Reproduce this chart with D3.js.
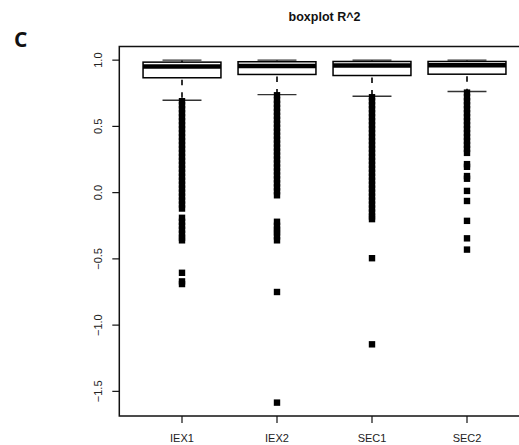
<!DOCTYPE html>
<meta charset="utf-8">
<style>
body { margin: 0; background: #fff; }
svg text { font-family: "Liberation Sans", Arial, sans-serif; fill: #222; }
</style>
<body>
<svg width="519" height="445"></svg>
<script src="https://cdn.jsdelivr.net/npm/d3@7"></script>
<script>

var groups = ["IEX1", "IEX2", "SEC1", "SEC2"];
var q1 = [0.867, 0.892, 0.884, 0.894];
var medians = [0.952, 0.955, 0.960, 0.962];
var q3 = [0.985, 0.988, 0.990, 0.990];
var upperWhisker = [1.0, 1.0, 1.0, 1.0];
var lowerWhisker = [0.697, 0.740, 0.727, 0.763];

var outliersIEX1 = [0.69, 0.66, 0.63, 0.60, 0.57, 0.54, 0.51, 0.48, 0.45, 0.42, 0.39, 0.36, 0.33,
  0.30, 0.27, 0.24, 0.21, 0.18, 0.15, 0.12, 0.09, 0.06, 0.03, 0.0, -0.03, -0.06, -0.09, -0.12,
  -0.19, -0.22, -0.25, -0.28, -0.31, -0.34, -0.36, -0.605, -0.67, -0.69];
var outliersIEX2 = [0.735, 0.70, 0.67, 0.64, 0.61, 0.58, 0.55, 0.52, 0.49, 0.46, 0.43, 0.40, 0.37,
  0.34, 0.31, 0.28, 0.25, 0.22, 0.19, 0.16, 0.13, 0.10, 0.07, 0.04, 0.01, -0.02,
  -0.22, -0.25, -0.28, -0.30, -0.33, -0.36, -0.75, -1.585];
var outliersSEC1 = [0.72, 0.69, 0.66, 0.63, 0.60, 0.57, 0.54, 0.51, 0.48, 0.45, 0.42, 0.39, 0.36,
  0.33, 0.30, 0.27, 0.24, 0.21, 0.18, 0.15, 0.12, 0.09, 0.06, 0.03, 0.0, -0.03, -0.06, -0.09,
  -0.12, -0.15, -0.18, -0.20, -0.495, -1.145];
var outliersSEC2 = [0.755, 0.72, 0.69, 0.66, 0.63, 0.60, 0.57, 0.54, 0.51, 0.48, 0.45, 0.42, 0.39,
  0.36, 0.33, 0.30, 0.215, 0.195, 0.125, 0.105, 0.013, -0.063, -0.213, -0.345, -0.43];
var outliers = [outliersIEX1, outliersIEX2, outliersSEC1, outliersSEC2];

var yTicks = [-1.5, -1.0, -0.5, 0.0, 0.5, 1.0];

var plotLeft = 119.3, plotRight = 529.7, plotTop = 46.5, plotBottom = 416;

var x = d3.scaleLinear().domain([0.34, 4.66]).range([plotLeft, plotRight]);
var y = d3.scaleLinear().domain([-1.686, 1.103]).range([plotBottom, plotTop]);
var halfBox = 0.41, halfCap = 0.205;

var svg = d3.select("svg");
svg.append("rect").attr("width", 519).attr("height", 445).attr("fill", "#fff");

// title and panel letter
svg.append("text").attr("x", (plotLeft + plotRight) / 2).attr("y", 21)
  .attr("text-anchor", "middle").style("font-weight", "bold").style("font-size", "12.5px")
  .style("fill", "#111").text("boxplot R^2");
svg.append("text").attr("x", 14).attr("y", 47)
  .style("font-family", "'Open Sans', sans-serif").style("font-weight", "bold")
  .style("font-size", "21px").style("fill", "#111").text("C");

// boxes
var g = svg.append("g");
groups.forEach(function(name, i) {
  var cx = x(i + 1);
  // whiskers (dashed)
  g.append("line").attr("x1", cx).attr("x2", cx).attr("y1", y(q1[i])).attr("y2", y(lowerWhisker[i]))
    .attr("stroke", "#000").attr("stroke-width", 1.6)
    .attr("stroke-dasharray", "5.5,7").attr("stroke-dashoffset", 10.5);
  g.append("line").attr("x1", cx).attr("x2", cx).attr("y1", y(q3[i])).attr("y2", y(upperWhisker[i]))
    .attr("stroke", "#000").attr("stroke-width", 1.6);
  // caps
  [lowerWhisker[i], upperWhisker[i]].forEach(function(v) {
    g.append("line").attr("x1", x(i + 1 - halfCap)).attr("x2", x(i + 1 + halfCap))
      .attr("y1", y(v)).attr("y2", y(v)).attr("stroke", "#333").attr("stroke-width", 1.4);
  });
  // box
  g.append("rect").attr("x", x(i + 1 - halfBox)).attr("width", x(i + 1 + halfBox) - x(i + 1 - halfBox))
    .attr("y", y(q3[i])).attr("height", y(q1[i]) - y(q3[i]))
    .attr("fill", "#fff").attr("stroke", "#000").attr("stroke-width", 1.5);
  // median
  g.append("line").attr("x1", x(i + 1 - halfBox)).attr("x2", x(i + 1 + halfBox))
    .attr("y1", y(medians[i])).attr("y2", y(medians[i]))
    .attr("stroke", "#000").attr("stroke-width", 4.5);
  // outliers
  g.selectAll(null).data(outliers[i]).enter().append("rect")
    .attr("x", cx - 3.2).attr("width", 6.4)
    .attr("y", function(d) { return y(d) - 3.2; }).attr("height", 6.4)
    .attr("fill", "#000");
});

// frame
svg.append("rect").attr("x", plotLeft).attr("y", plotTop)
  .attr("width", plotRight - plotLeft).attr("height", plotBottom - plotTop)
  .attr("fill", "none").attr("stroke", "#111").attr("stroke-width", 1.5);

// y axis
var fmt = d3.format(".1f");
var ya = svg.append("g");
ya.selectAll("line").data(yTicks).enter().append("line")
  .attr("x1", plotLeft - 7).attr("x2", plotLeft).attr("y1", y).attr("y2", y)
  .attr("stroke", "#111").attr("stroke-width", 1.2);
ya.selectAll("text").data(yTicks).enter().append("text")
  .attr("transform", function(d) { return "translate(102," + y(d) + ") rotate(-90)"; })
  .attr("text-anchor", "middle").style("font-size", "11px").text(fmt);

// x axis
var xa = svg.append("g");
xa.selectAll("line").data(groups).enter().append("line")
  .attr("x1", function(d, i) { return x(i + 1); }).attr("x2", function(d, i) { return x(i + 1); })
  .attr("y1", plotBottom).attr("y2", plotBottom + 7).attr("stroke", "#111").attr("stroke-width", 1.2);
xa.selectAll("text").data(groups).enter().append("text")
  .attr("x", function(d, i) { return x(i + 1); }).attr("y", 441.5)
  .attr("text-anchor", "middle").style("font-size", "11px").text(function(d) { return d; });

</script>
</body>
